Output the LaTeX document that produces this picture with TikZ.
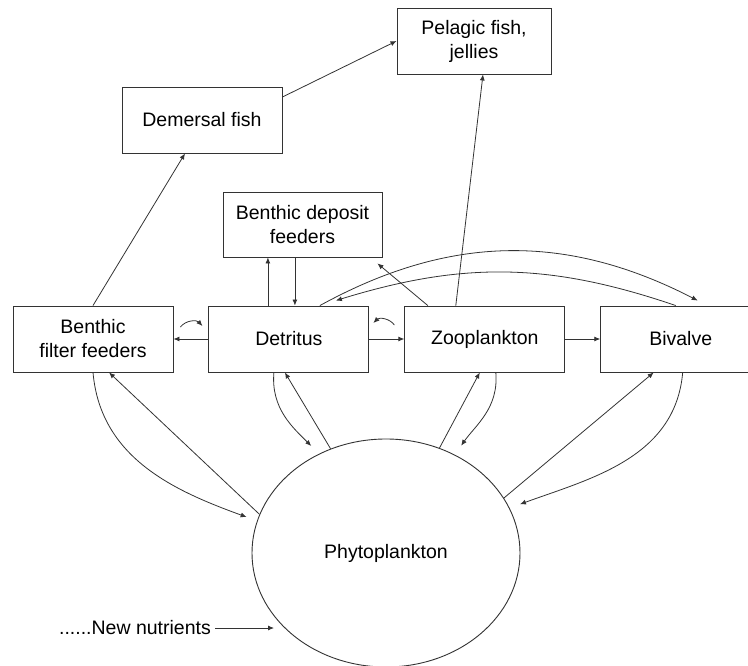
\documentclass[tikz,border=0pt]{standalone}
\usepackage{fontspec}
\setmainfont{Liberation Sans}
\usepackage{tikz}
\usetikzlibrary{arrows.meta,positioning,shapes.geometric}
\definecolor{ink}{HTML}{333333}
\tikzset{
  pool/.style={draw=ink,line width=0.9pt,align=center,inner sep=2pt,
    minimum width=160pt,minimum height=66pt,font=\fontsize{19.5}{24}\selectfont},
  bloom/.style={ellipse,draw=ink,line width=0.9pt,inner sep=0pt,
    minimum width=268pt,minimum height=228pt,font=\fontsize{19.5}{24}\selectfont},
  arrow/.style={-{Latex[length=6pt,width=5pt]},line width=0.8pt,draw=ink},
  intake/.style={arrow,shorten >=11pt},
  tag/.style={font=\fontsize{19.5}{24}\selectfont,inner sep=4pt}
}
\begin{document}
\begin{tikzpicture}[x=1pt,y=-1pt,node distance=35pt]
  \useasboundingbox (0,0) rectangle (748,666);
  \node[pool,minimum width=154pt] (pelagic) at (474,41) {Pelagic fish,\\jellies};
  \node[pool] (demersal) at (202,120) {Demersal fish};
  \node[pool,minimum width=159pt,minimum height=65pt] (deposit) at (302.5,224.5) {Benthic deposit\\feeders};
  \node[pool] (filter) at (93,339) {Benthic\\filter feeders};
  \node[pool,right=of filter] (detritus) {Detritus};
  \node[pool,right=of detritus] (zoo) {Zooplankton};
  \node[pool,right=of zoo] (bivalve) {Bivalve};
  \node[bloom] (phyto) at (386,553) {Phytoplankton};
  \node[tag] (nutrients) at (135,628) {......New nutrients};
  \coordinate (inflow) at (274,628);
  \draw[arrow] (filter.north) -- ([xshift=-17pt]demersal.south);
  \draw[arrow] ([yshift=23pt]demersal.east) -- (pelagic.west);
  \draw[arrow] ([xshift=-29pt]zoo.north) -- ([xshift=9pt]pelagic.south);
  \draw[arrow] ([xshift=-21pt]detritus.north) -- ([xshift=-21pt]detritus.north |- deposit.south);
  \draw[arrow] ([xshift=6pt]detritus.north |- deposit.south) -- ([xshift=6pt]detritus.north);
  \draw[arrow] ([xshift=-57pt]zoo.north) -- ([shift={(-5pt,-6pt)}]deposit.south east);
  \draw[arrow] ([xshift=31pt]detritus.north) to[bend left=28] ([xshift=17pt,yshift=5pt]bivalve.north);
  \draw[arrow] ([xshift=-5pt]bivalve.north) to[bend right=18] ([xshift=47pt,yshift=5pt]detritus.north);
  \draw[arrow] (detritus.west) -- (filter.east);
  \draw[arrow] (detritus.east) -- (zoo.west);
  \draw[arrow] (zoo.east) -- (bivalve.west);
  \draw[arrow] ([shift={(7pt,12pt)}]filter.east) to[bend left=50] ([shift={(-6pt,13pt)}]detritus.west);
  \draw[arrow] ([shift={(-10pt,14pt)}]zoo.west) to[bend right=50] ([shift={(4pt,16pt)}]detritus.east);
  \draw[intake] (filter.south) to[out=-85,in=160] (phyto.166);
  \draw[arrow] (phyto.163) -- ([xshift=16pt]filter.south);
  \draw[intake] ([xshift=-15pt]detritus.south) to[out=-95,in=135] (phyto.124);
  \draw[arrow] (phyto.118) -- ([xshift=-4pt]detritus.south);
  \draw[arrow] (phyto.63) -- ([xshift=-5pt]zoo.south);
  \draw[intake] ([xshift=11pt]zoo.south) to[out=-85,in=55] (phyto.55);
  \draw[arrow] (phyto.25) -- ([xshift=-27pt]bivalve.south);
  \draw[intake] ([xshift=2pt]bivalve.south) to[out=-95,in=20] (phyto.20);
  \draw[arrow] (nutrients.east) -- (inflow);
\end{tikzpicture}
\end{document}
